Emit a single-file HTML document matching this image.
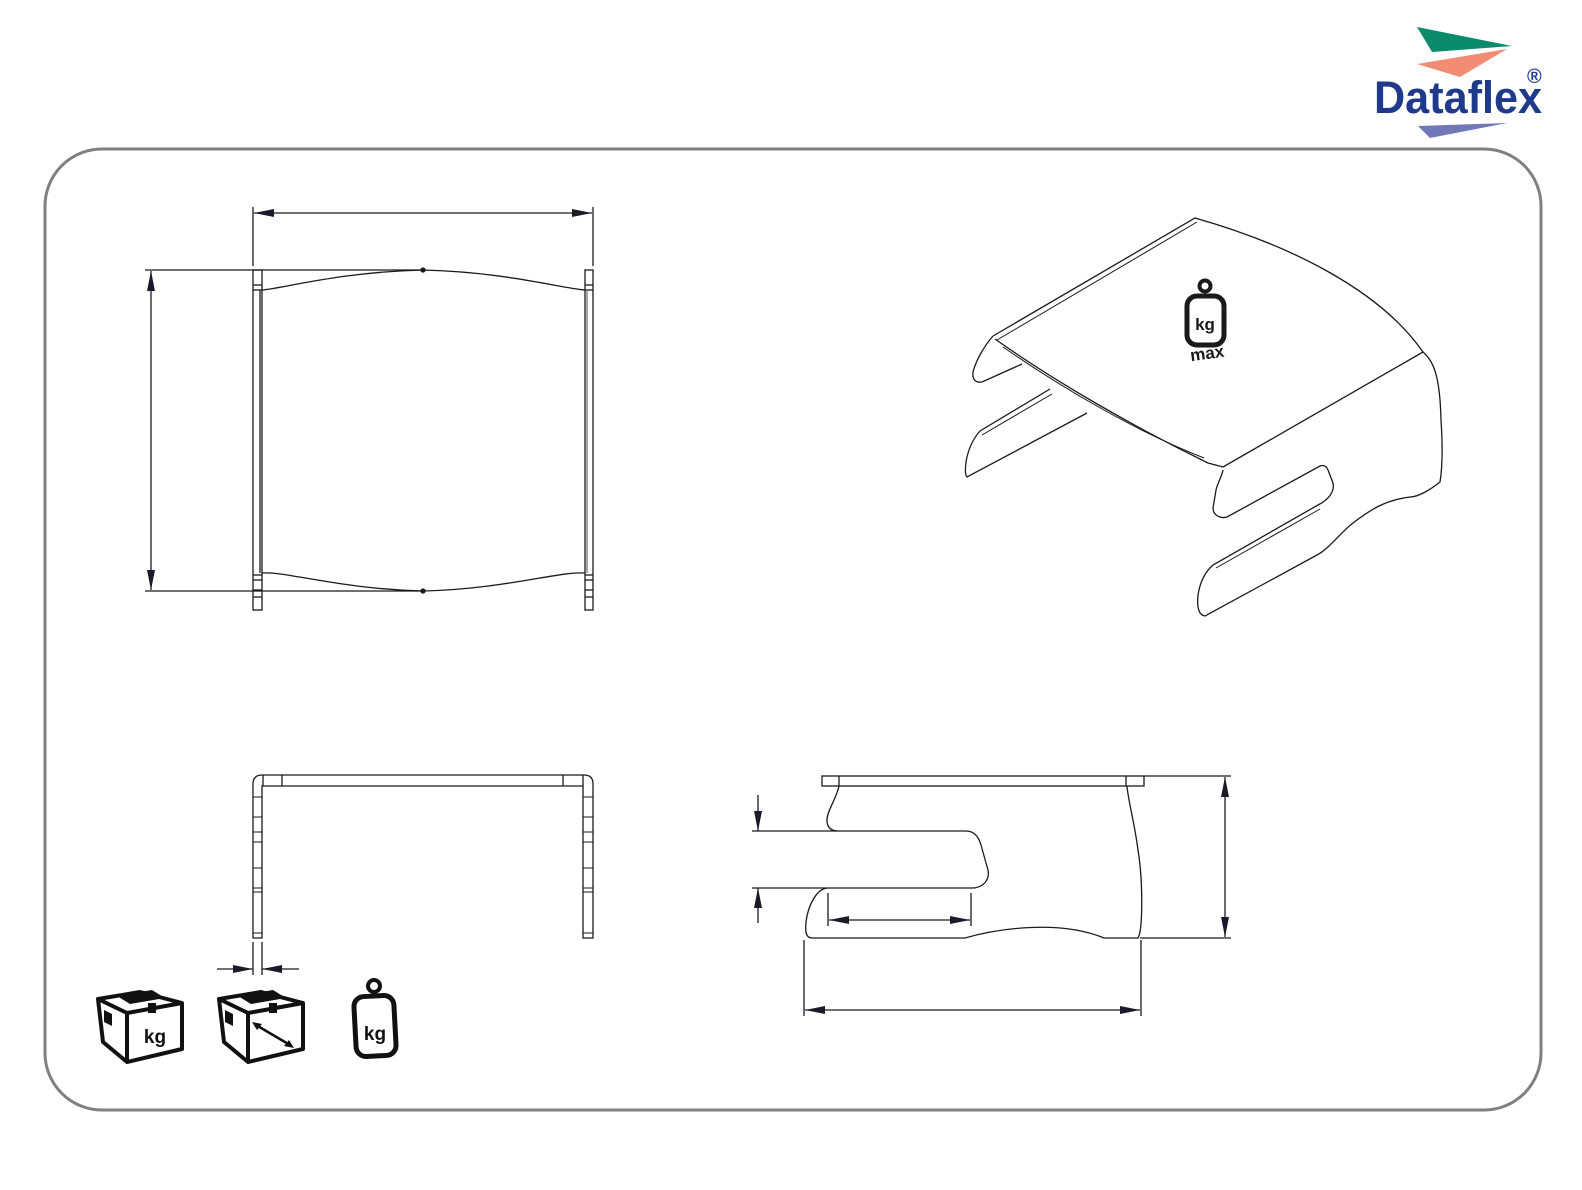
<!DOCTYPE html>
<html><head><meta charset="utf-8"><style>
html,body{margin:0;padding:0;background:#fff;}
svg{display:block;}
</style></head><body>
<svg width="1582" height="1190" viewBox="0 0 1582 1190" xmlns="http://www.w3.org/2000/svg">
<defs>
<marker id="a" viewBox="0 0 20 8" refX="20" refY="4" markerWidth="20" markerHeight="8" markerUnits="userSpaceOnUse" orient="auto-start-reverse"><path d="M0,0 L20,4 L0,8 Z" fill="#1a1a2a"/></marker>
</defs>
<!-- logo -->
<polygon points="1417,27 1512,46 1432,52" fill="#0b8a6c"/>
<polygon points="1417,64 1507,49 1460,77" fill="#f28c72"/>
<text x="1374" y="113" font-family="Liberation Sans, sans-serif" font-weight="bold" font-size="45" fill="#1f3a8a" textLength="168" lengthAdjust="spacingAndGlyphs">Dataflex</text>
<text x="1527" y="83" font-family="Liberation Sans, sans-serif" font-weight="bold" font-size="20" fill="#1f3a8a">®</text>
<polygon points="1418,126 1507,123 1430,138" fill="#7078b8"/>
<!-- frame -->
<rect x="45" y="149" width="1496" height="961" rx="57" ry="57" fill="none" stroke="#808080" stroke-width="3"/>

<g fill="none" stroke="#1a1a1a" stroke-width="1.3">
<!-- top view dims -->
<line x1="253" y1="207" x2="253" y2="266"/><line x1="593" y1="207" x2="593" y2="266"/>
<line x1="254" y1="213" x2="592" y2="213" marker-start="url(#a)" marker-end="url(#a)"/>
<line x1="145" y1="270" x2="423" y2="270"/><line x1="145" y1="591" x2="423" y2="591"/>
<line x1="151" y1="271" x2="151" y2="590" marker-start="url(#a)" marker-end="url(#a)"/>
<!-- top view body -->
<rect x="253" y="270" width="9" height="340"/>
<rect x="585" y="270" width="8" height="340"/>
<line x1="253" y1="285" x2="262" y2="285"/><line x1="253" y1="290" x2="262" y2="290"/>
<line x1="585" y1="285" x2="593" y2="285"/><line x1="585" y1="290" x2="593" y2="290"/>
<line x1="253" y1="575" x2="262" y2="575"/><line x1="253" y1="580" x2="262" y2="580"/><line x1="253" y1="590" x2="262" y2="590"/><line x1="253" y1="597" x2="262" y2="597"/>
<line x1="585" y1="575" x2="593" y2="575"/><line x1="585" y1="580" x2="593" y2="580"/><line x1="585" y1="590" x2="593" y2="590"/><line x1="585" y1="597" x2="593" y2="597"/>
<path d="M262,290 C285,288 340,272 423,270 C505,272 560,288 585,290"/>
<path d="M262,573 C285,571 340,589 423,591 C505,589 560,571 585,573"/>
<line x1="587" y1="290" x2="587" y2="573" stroke="#777"/>
<line x1="260" y1="290" x2="260" y2="573"/>
<circle cx="423" cy="270" r="2" fill="#1a1a1a"/><circle cx="423" cy="591" r="2" fill="#1a1a1a"/>
<!-- front view -->
<path d="M253,938 L253,784 Q253,775 262,775 L584,775 Q593,775 593,784 L593,938 L583,938 L583,786 L262,786 L262,938 Z"/>
<line x1="263" y1="775" x2="263" y2="786"/><line x1="282" y1="775" x2="282" y2="786"/>
<line x1="563" y1="775" x2="563" y2="786"/><line x1="583" y1="775" x2="583" y2="786"/>
<g stroke-width="1">
<line x1="253" y1="797" x2="262" y2="797"/><line x1="253" y1="817" x2="262" y2="817"/><line x1="253" y1="832" x2="262" y2="832"/><line x1="253" y1="842" x2="262" y2="842"/><line x1="253" y1="868" x2="262" y2="868"/><line x1="253" y1="888" x2="262" y2="888"/><line x1="253" y1="892" x2="262" y2="892"/><line x1="253" y1="933" x2="262" y2="933"/>
<line x1="583" y1="797" x2="593" y2="797"/><line x1="583" y1="817" x2="593" y2="817"/><line x1="583" y1="832" x2="593" y2="832"/><line x1="583" y1="842" x2="593" y2="842"/><line x1="583" y1="868" x2="593" y2="868"/><line x1="583" y1="888" x2="593" y2="888"/><line x1="583" y1="892" x2="593" y2="892"/><line x1="583" y1="933" x2="593" y2="933"/>
</g>
<line x1="253" y1="942" x2="253" y2="975"/><line x1="262" y1="942" x2="262" y2="975"/>
<line x1="217" y1="969" x2="253" y2="969" marker-end="url(#a)"/>
<line x1="299" y1="969" x2="262" y2="969" marker-end="url(#a)"/>
<!-- side view -->
<rect x="822" y="776" width="322" height="10"/>
<line x1="839" y1="776" x2="839" y2="786"/><line x1="1126" y1="776" x2="1126" y2="786"/>
<path d="M839,786 C836,800 826,812 827,822 C828,829 833,831 838,831 L966,831 C975,831 979,838 981,845 L988,870 C990,880 983,888 972,888 L828,888 C817,888 808,905 806,922 C805,932 806,938 812,938 L965,938 C1000,928 1060,920 1104,938 L1138,938 C1143,930 1143,880 1138,850 C1134,820 1128,800 1127,786"/>
<line x1="1144" y1="776" x2="1231" y2="776"/><line x1="1140" y1="938" x2="1231" y2="938"/>
<line x1="1225" y1="777" x2="1225" y2="937" marker-start="url(#a)" marker-end="url(#a)"/>
<line x1="752" y1="831" x2="837" y2="831"/><line x1="752" y1="888" x2="827" y2="888"/>
<line x1="758" y1="795" x2="758" y2="831" marker-end="url(#a)"/>
<line x1="758" y1="923" x2="758" y2="888" marker-end="url(#a)"/>
<line x1="828" y1="893" x2="828" y2="926"/><line x1="971" y1="893" x2="971" y2="926"/>
<line x1="829" y1="920" x2="970" y2="920" marker-start="url(#a)" marker-end="url(#a)"/>
<line x1="804" y1="940" x2="804" y2="1016"/><line x1="1141" y1="940" x2="1141" y2="1016"/>
<line x1="805" y1="1010" x2="1140" y2="1010" marker-start="url(#a)" marker-end="url(#a)"/>

<!-- 3D view -->
<path d="M993,336 L1195,218 C1290,245 1380,290 1423,352 L1223,467"/>
<path d="M997,340 L1197,222" stroke-width="1"/>
<path d="M995,339 C1060,385 1140,430 1208,463 L1223,467"/>
<path d="M1003,347 C1068,392 1140,433 1204,458" stroke-width="1"/>
<path d="M1423,352 C1435,362 1440,380 1441,420 C1443,450 1442,470 1440,482 C1430,490 1418,497 1410,497 C1385,500 1370,510 1353,523 C1340,533 1330,548 1317,555 L1205,616 C1198,615 1197,605 1198,595 C1200,582 1205,572 1213,565 L1318,505 C1328,500 1335,492 1333,483 L1328,470 C1326,465 1323,465 1320,466 L1227,517 C1220,519 1213,515 1213,508 L1216,490 C1218,482 1222,476 1223,470"/>
<path d="M1216,568 L1320,509" stroke-width="1"/>
<path d="M993,336 C985,345 976,360 973,372 C972,380 976,383 982,382 L1022,364"/>
<path d="M1050,389 L980,431 C972,440 968,450 966,462 C965,470 965,475 967,477 L1087,413"/>
<path d="M982,435 L1052,394" stroke-width="1"/>
</g>

<!-- weight icon on 3D -->
<g>
<circle cx="1205" cy="286" r="5.5" fill="none" stroke="#1a1a1a" stroke-width="4"/>
<rect x="1187" y="296" width="37" height="49" rx="10" fill="none" stroke="#1a1a1a" stroke-width="5"/>
<text x="1205" y="330" text-anchor="middle" font-family="Liberation Sans, sans-serif" font-weight="bold" font-size="17" fill="#1a1a1a">kg</text>
<text x="1207" y="359" text-anchor="middle" font-family="Liberation Sans, sans-serif" font-weight="bold" font-size="17" fill="#1a1a1a" transform="rotate(-8 1207 353)">max</text>
</g>

<!-- bottom icons -->
<g fill="none" stroke="#111" stroke-width="4" stroke-linejoin="round">
<path d="M98,999 L140,992 L182,1003 L182,1049 L127,1062 L103,1042 Z"/>
<path d="M98,999 L127,1013 L182,1003 M127,1013 L127,1062"/>
<path d="M219,999 L261,992 L303,1003 L303,1049 L248,1062 L224,1042 Z"/>
<path d="M219,999 L248,1013 L303,1003 M248,1013 L248,1062"/>
</g>
<g fill="#111">
<polygon points="117,996 152,990 165,998 130,1004"/>
<rect x="148" y="1003" width="8" height="10"/>
<polygon points="104,1010 112,1014 112,1026 104,1022"/>
<polygon points="238,996 273,990 286,998 251,1004"/>
<rect x="269" y="1003" width="8" height="10"/>
<polygon points="225,1010 233,1014 233,1026 225,1022"/>
</g>
<text x="155" y="1043" text-anchor="middle" font-family="Liberation Sans, sans-serif" font-weight="bold" font-size="19" fill="#111">kg</text>
<line x1="256" y1="1025" x2="290" y2="1045" stroke="#111" stroke-width="2.5"/>
<polygon points="252,1022 262,1024 257,1030" fill="#111"/>
<polygon points="294,1048 284,1046 289,1040" fill="#111"/>
<circle cx="374" cy="986" r="6" fill="none" stroke="#111" stroke-width="4"/>
<rect x="355" y="996" width="40" height="60" rx="10" fill="none" stroke="#111" stroke-width="5" transform="rotate(-3 375 1026)"/>
<text x="375" y="1040" text-anchor="middle" font-family="Liberation Sans, sans-serif" font-weight="bold" font-size="19" fill="#111">kg</text>
</svg>
</body></html>
